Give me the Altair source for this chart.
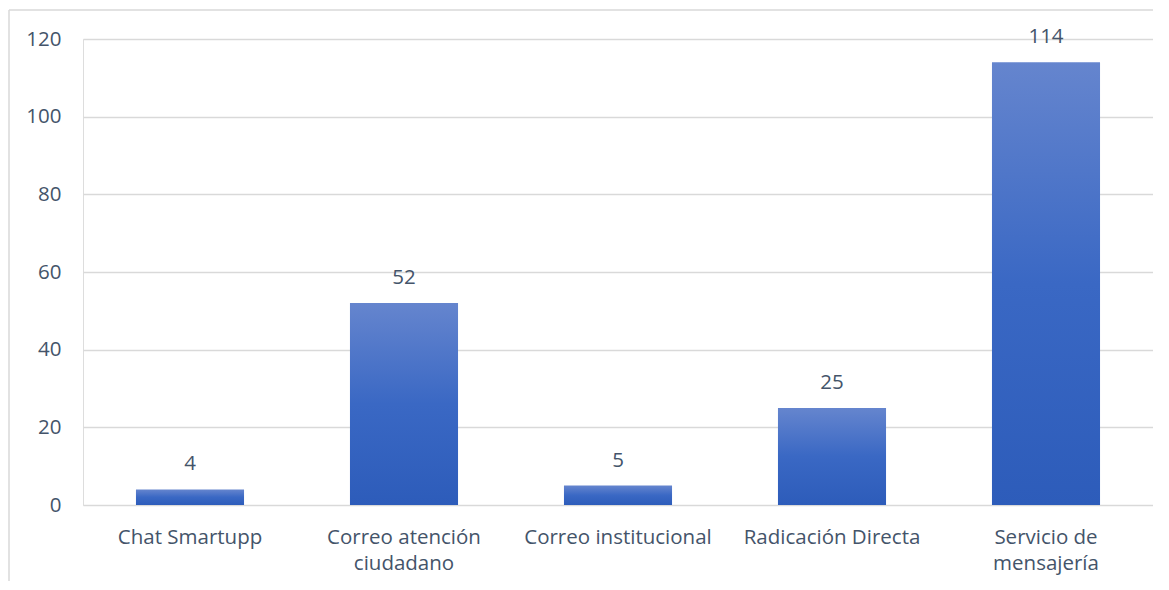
import altair as alt
import pandas as pd

categories = ["Chat Smartupp", "Correo atención\nciudadano", "Correo institucional",
              "Radicación Directa", "Servicio de\nmensajería"]
values = [4, 52, 5, 25, 114]
y_ticks = [0, 20, 40, 60, 80, 100, 120]

df = pd.DataFrame({"canal": categories, "valor": values})

TXT = "#44546A"
FONT = "Open Sans"
FS = 20.5

grad = alt.LinearGradient(
    gradient="linear",
    stops=[alt.GradientStop(color="#6585CE", offset=0),
           alt.GradientStop(color="#3A68C4", offset=0.5),
           alt.GradientStop(color="#2D5CBA", offset=1)],
    x1=0, x2=0, y1=0, y2=1,
)

x_enc = alt.X("canal:N", sort=categories, title=None,
              scale=alt.Scale(paddingInner=0.495, paddingOuter=0.2475),
              axis=alt.Axis(labelExpr="split(datum.label, '\\n')", labelAngle=0,
                            labelFontSize=FS, labelColor=TXT, labelFont=FONT,
                            labelPadding=22, labelLineHeight=26, labelLimit=0,
                            ticks=False, domain=False, grid=False))
y_enc = alt.Y("valor:Q", title=None,
              scale=alt.Scale(domain=[0, 120], nice=False),
              axis=alt.Axis(values=y_ticks, labelFontSize=FS, labelColor=TXT, labelFont=FONT,
                            labelPadding=22, ticks=False, domain=False,
                            gridColor="#D9D9D9", gridWidth=1.3))

bars = alt.Chart(df).mark_bar(color=grad).encode(x=x_enc, y=y_enc)
labels = alt.Chart(df).mark_text(dy=-25, fontSize=FS, color=TXT, font=FONT).encode(
    x=alt.X("canal:N", sort=categories), y="valor:Q", text="valor:Q")

one = pd.DataFrame({"a": [0]})
border_top = alt.Chart(one).mark_rule(color="#D9D9D9", strokeWidth=1.5, clip=False).encode(
    x=alt.value(-74), x2=alt.value(1070), y=alt.value(-29))
border_left = alt.Chart(one).mark_rule(color="#D9D9D9", strokeWidth=1.5, clip=False).encode(
    x=alt.value(-74), y=alt.value(-29), y2=alt.value(542))

chart = alt.layer(border_top, border_left, bars, labels).properties(
    width=1070, height=466,
    autosize=alt.AutoSizeParams(type="none"),
    padding={"left": 75, "top": 31, "right": 0, "bottom": 76},
).configure_view(strokeOpacity=0, strokeWidth=0).configure(background="white")

chart.save("out.html", embed_options={"renderer": "svg", "actions": False})
